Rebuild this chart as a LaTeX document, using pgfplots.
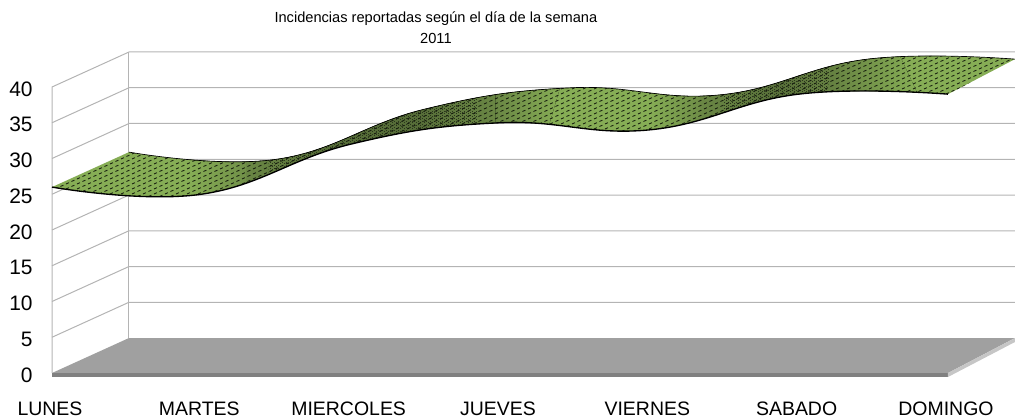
\documentclass[border=0pt]{standalone}
\usepackage{fontspec}
\setmainfont{Liberation Sans}
\usepackage{pgfplots}
\pgfplotsset{compat=1.18}
\usepgfplotslibrary{fillbetween}
\usetikzlibrary{patterns}
\definecolor{gridc}{HTML}{B4B4B4}
\definecolor{floorc}{HTML}{A0A0A0}
\definecolor{stripc}{HTML}{808080}
\definecolor{sidec}{HTML}{C6C6C6}
\definecolor{lg}{HTML}{86AD55}
\definecolor{mg}{HTML}{6A8744}
\definecolor{dg}{HTML}{566D38}
\pgfdeclarepatternformonly{ribdots}{\pgfqpoint{-1pt}{-1pt}}{\pgfqpoint{8.25pt}{3.75pt}}{\pgfqpoint{8.25pt}{3.75pt}}{
 \pgfsetlinewidth{0.6pt}
 \pgfpathmoveto{\pgfqpoint{0pt}{0pt}}\pgfpathlineto{\pgfqpoint{2.2pt}{1pt}}
 \pgfpathmoveto{\pgfqpoint{4.1pt}{1.87pt}}\pgfpathlineto{\pgfqpoint{6.3pt}{2.87pt}}
 \pgfusepath{stroke}}
\pgfdeclarepatternformonly{ribfine}{\pgfqpoint{-1pt}{-1pt}}{\pgfqpoint{3pt}{2.2pt}}{\pgfqpoint{3pt}{2.2pt}}{
 \pgfsetlinewidth{0.75pt}
 \pgfpathmoveto{\pgfqpoint{0pt}{0pt}}\pgfpathlineto{\pgfqpoint{0.75pt}{0pt}}
 \pgfpathmoveto{\pgfqpoint{1.5pt}{1.1pt}}\pgfpathlineto{\pgfqpoint{2.25pt}{1.1pt}}
 \pgfusepath{stroke}}
\newcommand{\seg}[4]{\addplot[left color=#3,right color=#4] fill between[of=front and back, soft clip={domain=#1:#2}, on layer=main];}
\begin{document}
\begin{tikzpicture}
\begin{axis}[
 at={(39pt,34.5pt)}, anchor=south west,
 scale only axis, width=722.25pt, height=240.75pt,
 xmin=0, xmax=6.449, ymin=0, ymax=44.895,
 clip=false,
 axis line style={draw=none}, tick style={draw=none},
 xtick={0,1,2,3,4,5,6},
 xticklabels={LUNES,MARTES,MIERCOLES,JUEVES,VIERNES,SABADO,DOMINGO},
 ytick={0,5,10,15,20,25,30,35,40},
 /pgf/number format/assume math mode=true,
 xticklabel style={font=\fontsize{14.6}{16}\selectfont, anchor=base, yshift=-32pt, xshift=-1.5pt},
 yticklabel style={font=\fontsize{15.7}{17}\selectfont, anchor=east, xshift=-11pt, yshift=-1.5pt},
]
% walls
\addplot[gridc,line width=.75pt] coordinates {(0,0)(0,40)(0.5156,44.895)(6.449,44.895)};
\addplot[gridc,line width=.75pt] coordinates {(0.5156,4.895)(0.5156,44.895)};
\addplot[gridc,line width=.75pt] coordinates {(0,5)(0.5156,9.895)(6.449,9.895)};
\addplot[gridc,line width=.75pt] coordinates {(0,10)(0.5156,14.895)(6.449,14.895)};
\addplot[gridc,line width=.75pt] coordinates {(0,15)(0.5156,19.895)(6.449,19.895)};
\addplot[gridc,line width=.75pt] coordinates {(0,20)(0.5156,24.895)(6.449,24.895)};
\addplot[gridc,line width=.75pt] coordinates {(0,25)(0.5156,29.895)(6.449,29.895)};
\addplot[gridc,line width=.75pt] coordinates {(0,30)(0.5156,34.895)(6.449,34.895)};
\addplot[gridc,line width=.75pt] coordinates {(0,35)(0.5156,39.895)(6.449,39.895)};
% floor
\addplot[draw=none,fill=floorc] coordinates {(0,0)(0.5156,4.895)(6.449,4.895)(6,0)} --cycle;
\addplot[draw=none,fill=stripc] coordinates {(0,0)(6,0)(6,-0.56)(0,-0.56)} --cycle;
\addplot[draw=none,fill=sidec] coordinates {(6,0)(6.449,4.895)(6.449,4.335)(6,-0.56)} --cycle;
% ribbon
\addplot[name path=front,draw=none,smooth,tension=0.72] coordinates {(0,26)(1,25)(2,32)(3,35)(4,34)(5,39)(6,39)};
\addplot[name path=back,draw=none,smooth,tension=0.72] coordinates {(0.5156,30.895)(1.5045,29.895)(2.4933,36.895)(3.4822,39.895)(4.471,38.895)(5.4599,43.895)(6.449,43.895)};
\addplot[fill=lg] fill between[of=front and back, on layer=main];
\seg{0.92}{1.3}{lg}{mg}
\seg{1.3}{1.73}{mg}{dg}
\seg{1.73}{2.46}{dg}{dg}
\seg{2.46}{2.97}{dg}{mg}
\seg{2.97}{3.33}{mg}{lg}
\seg{4.0}{4.34}{lg}{mg}
\seg{4.34}{4.84}{mg}{dg}
\seg{4.84}{5.28}{dg}{mg}
\seg{5.28}{5.68}{mg}{lg}
\addplot[pattern=ribfine,pattern color=black!50!dg] fill between[of=front and back, soft clip={domain=1.45:2.85}, on layer=main];
\addplot[pattern=ribfine,pattern color=black!50!dg] fill between[of=front and back, soft clip={domain=4.5:5.2}, on layer=main];
\addplot[pattern=ribdots,pattern color=black!85!lg] fill between[of=front and back, on layer=main];
\addplot[black,line width=1pt,smooth,tension=0.72] coordinates {(0,26)(1,25)(2,32)(3,35)(4,34)(5,39)(6,39)};
\addplot[black,line width=.5pt,smooth,tension=0.72] coordinates {(0.5156,30.895)(1.5045,29.895)(2.4933,36.895)(3.4822,39.895)(4.471,38.895)(5.4599,43.895)(6.449,43.895)};
% title
\node[font=\fontsize{10.97}{12}\selectfont,anchor=center] at (axis cs:2.571,49.6) {Incidencias reportadas según el día de la semana};
\node[font=\fontsize{10.97}{12}\selectfont,anchor=center] at (axis cs:2.571,46.85) {2011};
\end{axis}
\pgfresetboundingbox
\path[use as bounding box] (0,0) rectangle (761.25pt,314.25pt);
\end{tikzpicture}
\end{document}
